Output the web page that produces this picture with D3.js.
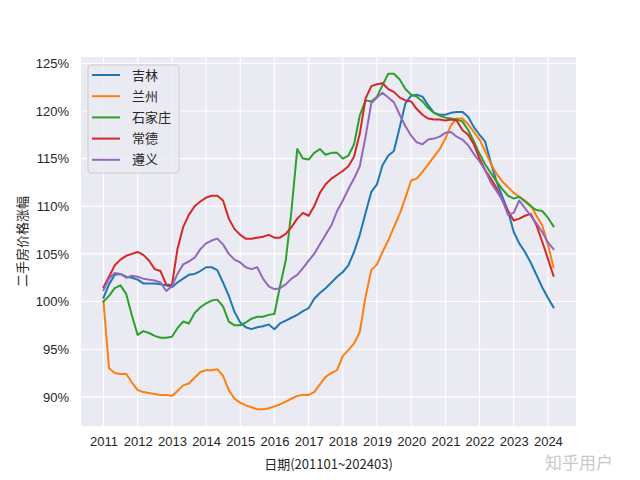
<!DOCTYPE html>
<html>
<head>
<meta charset="utf-8">
<script src="https://cdn.jsdelivr.net/npm/d3@7"></script>
<style>
  body { margin: 0; background: #fff; }
  text { fill: #262626; }
</style>
</head>
<body>
<script>
// bimonthly samples, 2011-01 .. 2024-03
const dates = d3.timeMonth.every(2).range(new Date(2011, 0, 1), new Date(2024, 3, 1));

const cities = ['吉林', '兰州', '石家庄', '常德', '遵义'];
const colors = ['#1f77b4', '#ff7f0e', '#2ca02c', '#d62728', '#9467bd'];

const jilin = [
  100.4, 101.8, 102.8, 102.9, 102.6, 102.5,
  102.3, 101.9, 101.9, 101.9, 101.8, 101.7,
  101.5, 102.0, 102.4, 102.8, 102.9, 103.2,
  103.6, 103.6, 103.3, 102.0, 100.6, 98.9,
  97.8, 97.3, 97.1, 97.3, 97.4, 97.6,
  97.1, 97.7, 98.0, 98.3, 98.6, 99.0,
  99.3, 100.3, 100.9, 101.4, 102.0, 102.6,
  103.1, 103.8, 105.2, 107.0, 109.3, 111.5,
  112.3, 114.3, 115.3, 115.8, 118.3, 120.8,
  121.6, 121.7, 121.5, 120.6, 119.8, 119.6,
  119.6, 119.8, 119.9, 119.9, 119.4, 118.3,
  117.5, 116.8, 114.6, 112.6, 111.0, 109.5,
  107.3, 106.1, 105.2, 104.1, 102.8, 101.5,
  100.4, 99.4
];
const lanzhou = [
  100.0, 93.0, 92.5, 92.4, 92.4, 91.5,
  90.7, 90.5, 90.4, 90.3, 90.2, 90.2,
  90.1, 90.6, 91.2, 91.4, 92.0, 92.6,
  92.8, 92.8, 92.9, 92.2, 90.7, 89.8,
  89.4, 89.1, 88.9, 88.7, 88.7, 88.8,
  89.0, 89.2, 89.5, 89.8, 90.1, 90.2,
  90.2, 90.5, 91.3, 92.1, 92.5, 92.8,
  94.3, 94.9, 95.6, 96.8, 100.5, 103.3,
  103.9, 105.2, 106.4, 107.8, 109.2, 110.9,
  112.7, 112.9, 113.6, 114.4, 115.2, 116.0,
  117.1, 118.5, 119.2, 119.2, 118.6, 117.8,
  117.0, 115.8, 114.5, 113.4, 112.6, 112.0,
  111.4, 111.0, 110.6, 110.1, 109.0, 108.0,
  106.0, 103.6
];
const shijiazhuang = [
  100.0, 100.6, 101.4, 101.7, 100.8, 98.5,
  96.5, 96.9, 96.7, 96.4, 96.2, 96.2,
  96.3, 97.2, 97.9, 97.7, 98.8, 99.4,
  99.8, 100.1, 100.2, 99.5, 97.9, 97.5,
  97.5, 97.8, 98.2, 98.4, 98.4, 98.6,
  98.7, 101.6, 104.3, 109.5, 116.0, 115.0,
  114.9, 115.6, 116.0, 115.4, 115.6, 115.6,
  115.0, 115.3, 116.5, 119.5, 121.1, 121.0,
  121.5, 122.7, 123.9, 123.9, 123.3, 122.3,
  121.7, 121.5, 121.0, 120.3, 119.8, 119.5,
  119.3, 119.2, 119.1, 118.9, 118.0, 116.8,
  115.5, 114.4, 113.5, 112.6, 111.8, 111.1,
  110.8, 111.0, 110.5, 110.0, 109.6, 109.5,
  108.8, 107.9
];
const changde = [
  101.5, 102.6, 103.8, 104.4, 104.8, 105.0,
  105.2, 104.9, 104.3, 103.4, 103.2, 101.8,
  101.7, 105.5, 107.8, 109.1, 110.0, 110.5,
  110.9, 111.1, 111.1, 110.6, 108.7, 107.6,
  107.0, 106.6, 106.6, 106.7, 106.8, 107.0,
  106.7, 106.7, 107.1, 107.8, 108.7, 109.3,
  109.0, 110.0, 111.4, 112.3, 112.9, 113.3,
  113.7, 114.2, 115.2, 117.6, 121.3, 122.6,
  122.8, 122.9, 122.3, 122.0, 121.4, 121.1,
  121.0, 120.2, 119.6, 119.2, 119.1, 119.1,
  119.0, 119.1, 119.0, 118.0, 117.5, 116.5,
  115.0, 113.8, 112.9, 111.9, 110.6, 109.5,
  108.5, 108.7, 109.0, 109.2, 108.0, 106.3,
  104.5, 102.7
];
const zunyi = [
  101.2, 102.4, 103.0, 102.9, 102.5, 102.7,
  102.6, 102.4, 102.3, 102.2, 102.0, 101.1,
  101.6, 102.9, 103.9, 104.2, 104.6, 105.5,
  106.1, 106.4, 106.6, 106.0, 105.0, 104.4,
  104.1, 103.6, 103.4, 103.6, 102.4, 101.6,
  101.3, 101.4, 101.8, 102.4, 102.8, 103.5,
  104.3, 105.0, 106.0, 107.0, 108.0, 109.5,
  110.6, 111.8, 112.9, 114.2, 117.3, 120.8,
  121.4, 121.9, 121.4, 120.9, 119.6, 118.4,
  117.4, 116.7, 116.5, 117.0, 117.1, 117.3,
  117.7, 117.8, 117.3, 117.0, 116.4, 115.5,
  114.7, 113.8, 112.5, 111.6, 110.7, 109.1,
  109.3, 110.6, 109.8, 109.0, 108.2, 107.3,
  106.2, 105.5
];
const seriesValues = [jilin, lanzhou, shijiazhuang, changde, zunyi];

const yTicks = [90, 95, 100, 105, 110, 115, 120, 125];
const xTickYears = d3.range(2011, 2025);
const xLabel = '日期(201101~202403)';
const yLabel = '二手房价格涨幅';
const watermark = '知乎用户';

const W = 640, H = 480;
const plot = { left: 81, right: 576, top: 57, bottom: 426 };
const LATIN = '"Liberation Sans", Arial, sans-serif';
const CJK = '"Noto Sans CJK SC", sans-serif';

const svg = d3.select('body').append('svg')
  .attr('width', W)
  .attr('height', H)
  .style('font-family', LATIN);

svg.append('rect').attr('width', W).attr('height', H).attr('fill', '#fff');

// matplotlib-style 5% margins
const tExt = d3.extent(dates, d => +d);
const tPad = (tExt[1] - tExt[0]) * 0.05;
const x = d3.scaleTime()
  .domain([new Date(tExt[0] - tPad), new Date(tExt[1] + tPad)])
  .range([plot.left, plot.right]);

const allVals = seriesValues.flat();
const vExt = d3.extent(allVals);
const vPad = (vExt[1] - vExt[0]) * 0.05;
const y = d3.scaleLinear()
  .domain([vExt[0] - vPad, vExt[1] + vPad])
  .range([plot.bottom, plot.top]);

// axes background
svg.append('rect')
  .attr('x', plot.left).attr('y', plot.top)
  .attr('width', plot.right - plot.left)
  .attr('height', plot.bottom - plot.top)
  .attr('fill', '#eaeaf2');

const xTicks = xTickYears.map(yr => new Date(yr, 0, 1));

// x axis + vertical grid
const xAxis = svg.append('g')
  .attr('transform', 'translate(0,' + plot.bottom + ')')
  .call(d3.axisBottom(x).tickValues(xTicks).tickFormat(d3.timeFormat('%Y')).tickSize(0).tickPadding(11));
xAxis.select('.domain').remove();
xAxis.selectAll('text').style('font-size', '13px').style('font-family', LATIN).attr('fill', '#262626');

svg.append('g').selectAll('line').data(xTicks).join('line')
  .attr('x1', d => x(d)).attr('x2', d => x(d))
  .attr('y1', plot.top).attr('y2', plot.bottom)
  .attr('stroke', '#fff').attr('stroke-width', 1.1);

// y axis + horizontal grid
const yAxis = svg.append('g')
  .attr('transform', 'translate(' + plot.left + ',0)')
  .call(d3.axisLeft(y).tickValues(yTicks).tickFormat(d => d + '%').tickSize(0).tickPadding(12));
yAxis.select('.domain').remove();
yAxis.selectAll('text').style('font-size', '13px').style('font-family', LATIN).attr('fill', '#262626');

svg.append('g').selectAll('line').data(yTicks).join('line')
  .attr('x1', plot.left).attr('x2', plot.right)
  .attr('y1', d => y(d)).attr('y2', d => y(d))
  .attr('stroke', '#fff').attr('stroke-width', 1.1);

// lines
const line = d3.line()
  .x((d, i) => x(dates[i]))
  .y(d => y(d));

svg.append('g').selectAll('path').data(seriesValues).join('path')
  .attr('d', line)
  .attr('fill', 'none')
  .attr('stroke', (d, i) => colors[i])
  .attr('stroke-width', 2)
  .attr('stroke-linejoin', 'round')
  .attr('stroke-linecap', 'square');

// axis labels
svg.append('text')
  .attr('x', (plot.left + plot.right) / 2)
  .attr('y', 469)
  .attr('text-anchor', 'middle')
  .style('font-family', CJK)
  .style('font-size', '13px')
  .text(xLabel);

svg.append('text')
  .attr('transform', 'translate(27,' + ((plot.top + plot.bottom) / 2) + ') rotate(-90)')
  .attr('text-anchor', 'middle')
  .style('font-family', CJK)
  .style('font-size', '13px')
  .text(yLabel);

// legend
const legend = svg.append('g').attr('transform', 'translate(88,65)');
legend.append('rect')
  .attr('width', 91).attr('height', 108)
  .attr('rx', 3)
  .attr('fill', '#eaeaf2').attr('fill-opacity', 0.8)
  .attr('stroke', '#cccccc').attr('stroke-width', 1);

const rows = legend.selectAll('g.row').data(cities).join('g')
  .attr('class', 'row')
  .attr('transform', (d, i) => 'translate(0,' + (10 + i * 21.2) + ')');
rows.append('line')
  .attr('x1', 4).attr('x2', 32)
  .attr('stroke', (d, i) => colors[i])
  .attr('stroke-width', 2);
rows.append('text')
  .attr('x', 44).attr('dy', '0.35em')
  .style('font-family', CJK)
  .style('font-size', '13px')
  .text(d => d);

// watermark
svg.append('text')
  .attr('x', 545).attr('y', 469)
  .style('font-family', CJK)
  .style('font-size', '17px')
  .style('fill', '#c8c8c8')
  .text(watermark);
</script>
</body>
</html>
